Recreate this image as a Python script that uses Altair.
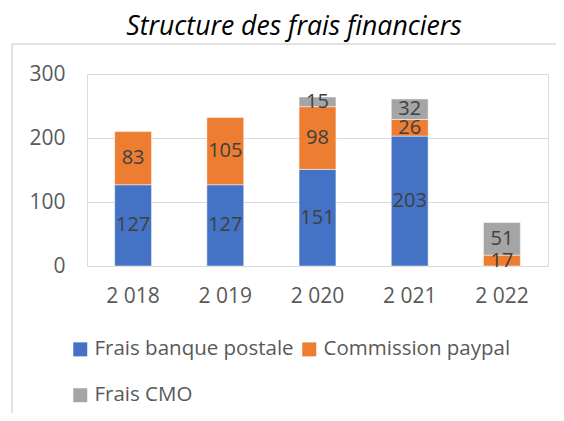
import altair as alt
import pandas as pd

years = ["2 018", "2 019", "2 020", "2 021", "2 022"]
series = ["Frais banque postale", "Commission paypal", "Frais CMO"]
banque = [127, 127, 151, 203, 0]
paypal = [83, 105, 98, 26, 17]
cmo = [0, 0, 15, 32, 51]
colors = ["#4472C4", "#ED7D31", "#A5A5A5"]

rows = []
for i, s in enumerate(series):
    vals = [banque, paypal, cmo][i]
    for y, v in zip(years, vals):
        if v > 0:
            rows.append({"year": y, "series": s, "idx": i, "value": v})
df = pd.DataFrame(rows)

FONT = "Open Sans"

x = alt.X("year:N", sort=years, title=None,
          axis=alt.Axis(labelAngle=0, ticks=False, domain=True, domainColor="#d9d9d9",
                        labelFontSize=21, labelColor="#595959", labelFont=FONT, labelPadding=19),
          scale=alt.Scale(paddingInner=0.6, paddingOuter=0.3))

bars = alt.Chart(df).mark_bar(stroke="white", strokeWidth=0.5).encode(
    x=x,
    y=alt.Y("value:Q", stack="zero", title=None,
            scale=alt.Scale(domain=[0, 300]),
            axis=alt.Axis(values=[0, 100, 200, 300], ticks=False, domain=False,
                          gridColor="#d9d9d9", labelFontSize=21, labelColor="#595959",
                          labelFont=FONT, labelPadding=22)),
    color=alt.Color("series:N", scale=alt.Scale(domain=series, range=colors),
                    sort=series,
                    legend=alt.Legend(title=None, orient="none", legendX=-17, legendY=265,
                                      columns=2, direction="horizontal",
                                      symbolType="square", symbolSize=196,
                                      symbolStrokeWidth=0, labelFontSize=20.5,
                                      labelColor="#595959", labelFont=FONT, labelLimit=400,
                                      rowPadding=25, columnPadding=5, labelOffset=4)),
    order=alt.Order("idx:Q", sort="ascending"),
)

labels = alt.Chart(df).transform_stack(
    stack="value", groupby=["year"], as_=["y0", "y1"],
    sort=[alt.SortField("idx", order="ascending")]
).transform_calculate(
    mid="(datum.y0 + datum.y1) / 2"
).mark_text(fontSize=20, color="#404040", font=FONT).encode(
    x=alt.X("year:N", sort=years),
    y=alt.Y("mid:Q"),
    text=alt.Text("value:Q"),
)

frame_df = pd.DataFrame({"k": [0]})
left_line = alt.Chart(frame_df).mark_rule(color="#d9d9d9", strokeWidth=1.5).encode(
    x=alt.value(-75), y=alt.value(-30), y2=alt.value(360))
top_line = alt.Chart(frame_df).mark_rule(color="#d9d9d9", strokeWidth=1.5).encode(
    x=alt.value(-75), x2=alt.value(480), y=alt.value(-30))

chart = alt.layer(left_line, top_line, bars, labels).properties(
    width=461, height=192,
    title=alt.TitleParams("Structure des frais financiers", fontStyle="italic",
                          fontSize=26.6, font=FONT, fontWeight="normal", color="#000000",
                          offset=3, frame="group", dx=-23.5),
    autosize=alt.AutoSizeParams(type="none"),
    padding={"left": 79, "top": 66, "right": 8, "bottom": 147},
).configure_view(stroke=None).configure(background="white")

chart.save("out.html", embed_options={"renderer": "svg", "actions": False})
